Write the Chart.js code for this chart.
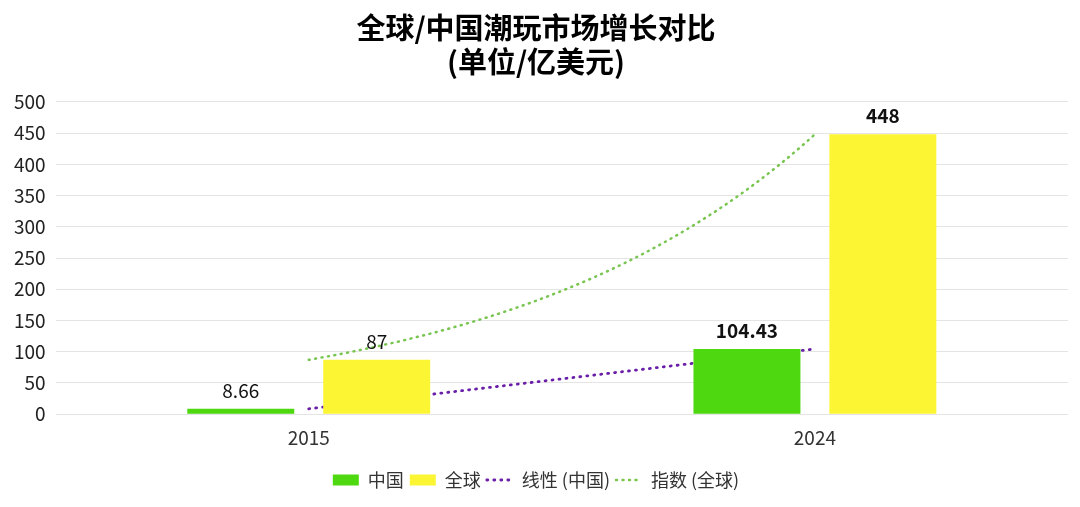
<!DOCTYPE html>
<html>
<head>
<meta charset="utf-8">
<script src="https://cdn.jsdelivr.net/npm/chart.js@4/dist/chart.umd.min.js"></script>
<style>
  html, body { margin: 0; padding: 0; background: #fff; }
  #wrap { width: 1080px; height: 507px; }
</style>
</head>
<body>
<div id="wrap"><canvas id="chart"></canvas></div>
<script>
// values
const years = ["2015", "2024"];
const chinaValues = [8.66, 104.43];
const globalValues = [87, 448];
const yTicks = [0, 50, 100, 150, 200, 250, 300, 350, 400, 450, 500];

const FONT = '"Noto Sans CJK SC", "Noto Sans", sans-serif';

// x is the category index, so bars and trendlines share one axis
const asPoints = vals => vals.map((v, i) => ({ x: i, y: v }));

// trendlines, fitted to the series the way the spreadsheet does
function linearFit(vals) {
    const n = vals.length;
    const xs = vals.map((v, i) => i);
    const mx = xs.reduce((a, b) => a + b, 0) / n;
    const my = vals.reduce((a, b) => a + b, 0) / n;
    let num = 0, den = 0;
    xs.forEach((x, i) => { num += (x - mx) * (vals[i] - my); den += (x - mx) * (x - mx); });
    const slope = num / den;
    return x => my + slope * (x - mx);
}
function expFit(vals) {
    const lin = linearFit(vals.map(Math.log));
    return x => Math.exp(lin(x));
}
function trendPoints(fn, last, steps) {
    const pts = [];
    for (let i = 0; i <= steps; i++) {
        const x = last * i / steps;
        pts.push({ x, y: fn(x) });
    }
    return pts;
}
const chinaTrend = trendPoints(linearFit(chinaValues), years.length - 1, 1);
const globalTrend = trendPoints(expFit(globalValues), years.length - 1, 40);

// value labels above the bars
const barLabels = {
    id: "barLabels",
    afterDatasetsDraw(chart) {
        const ctx = chart.ctx;
        ctx.save();
        ctx.fillStyle = "#111";
        ctx.textAlign = "center";
        ctx.textBaseline = "bottom";
        chart.data.datasets.forEach((ds, di) => {
            if (ds.type !== "bar") return;
            chart.getDatasetMeta(di).data.forEach((bar, i) => {
                ctx.font = (i === 1 ? "bold " : "") + "19px " + FONT;
                ctx.fillText(String(ds.data[i].y), bar.x, bar.y - 9);
            });
        });
        ctx.restore();
    }
};

new Chart(document.getElementById("chart"), {
    type: "bar",
    data: {
        datasets: [
            {
                type: "bar", label: "中国", data: asPoints(chinaValues),
                backgroundColor: "#4dd80f", borderWidth: 0
            },
            {
                type: "bar", label: "全球", data: asPoints(globalValues),
                backgroundColor: "#fcf534", borderWidth: 0
            },
            {
                type: "line", label: "线性 (中国)", data: chinaTrend,
                borderColor: "#6a1fa8", backgroundColor: "#6a1fa8",
                borderWidth: 2.8, borderDash: [1, 6], borderCapStyle: "round",
                pointRadius: 0, fill: false
            },
            {
                type: "line", label: "指数 (全球)", data: globalTrend,
                borderColor: "#78c550", backgroundColor: "#78c550",
                borderWidth: 2.5, borderDash: [1, 5.5], borderCapStyle: "round",
                pointRadius: 0, fill: false, tension: 0
            }
        ]
    },
    options: {
        responsive: true,
        maintainAspectRatio: false,
        animation: false,
        categoryPercentage: 0.537,
        barPercentage: 0.787,
        layout: { padding: { left: 4, right: 12, top: 11, bottom: 8 } },
        plugins: {
            title: {
                display: true,
                text: ["全球/中国潮玩市场增长对比", "(单位/亿美元)"],
                color: "#000",
                font: { family: FONT, size: 29, weight: "bold", lineHeight: 1.17 },
                padding: { top: 0, bottom: 23 }
            },
            legend: {
                position: "bottom",
                labels: {
                    color: "#333",
                    font: { family: FONT, size: 18 },
                    usePointStyle: true,
                    boxHeight: 11,
                    pointStyleWidth: 26,
                    padding: 6,
                    generateLabels(chart) {
                        return chart.data.datasets.map((ds, i) => ({
                            text: ds.label,
                            datasetIndex: i,
                            fillStyle: ds.type === "bar" ? ds.backgroundColor : "rgba(0,0,0,0)",
                            strokeStyle: ds.type === "bar" ? ds.backgroundColor : ds.borderColor,
                            lineWidth: ds.type === "bar" ? 0 : ds.borderWidth,
                            lineDash: ds.type === "bar" ? [] : ds.borderDash,
                            lineCap: "round",
                            pointStyle: ds.type === "bar" ? "rect" : "line",
                            fontColor: "#333"
                        }));
                    }
                }
            },
            tooltip: { enabled: false }
        },
        scales: {
            x: {
                type: "linear",
                offset: false,
                min: -0.5,
                max: years.length - 0.5,
                afterBuildTicks(axis) { axis.ticks = years.map((y, i) => ({ value: i })); },
                afterFit(axis) { axis.height += 12; },
                grid: { display: false },
                border: { display: false },
                ticks: {
                    color: "#333", font: { family: FONT, size: 19 }, padding: 4,
                    callback: v => years[v]
                }
            },
            y: {
                min: 0,
                max: 500,
                afterBuildTicks(axis) { axis.ticks = yTicks.map(v => ({ value: v })); },
                grid: { color: "#e4e4e4", drawTicks: false },
                border: { display: false },
                ticks: { color: "#222", font: { family: FONT, size: 19 }, padding: 10 }
            }
        }
    },
    plugins: [barLabels]
});
</script>
</body>
</html>
